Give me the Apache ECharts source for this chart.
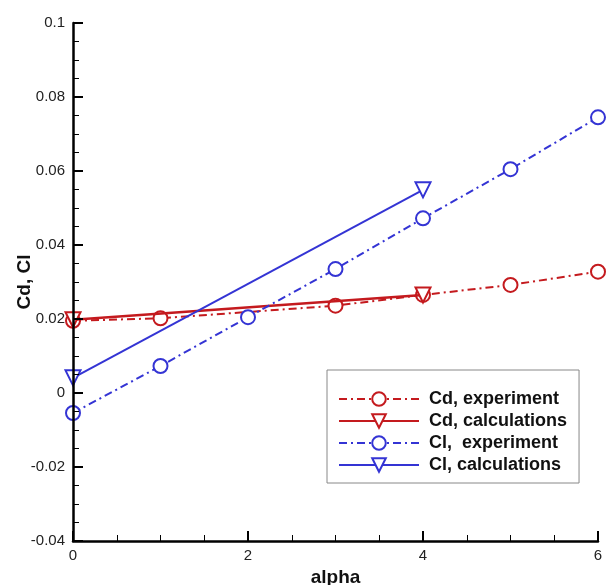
<!DOCTYPE html>
<html>
<head>
<meta charset="utf-8">
<script src="https://cdn.jsdelivr.net/npm/echarts@6/dist/echarts.min.js"></script>
<style>
  html, body { margin: 0; padding: 0; background: #fff; }
  #chart { width: 606px; height: 585px; }
</style>
</head>
<body>
<div id="chart"></div>
<script>
// alpha values and measured / computed coefficients
const cdExpAlpha = [0, 1, 3, 4, 5, 6]
const cdExp = [0.0195, 0.0202, 0.0236, 0.0265, 0.0292, 0.0328]
const cdCalcAlpha = [0, 4]
const cdCalc = [0.0198, 0.0265]
const clExpAlpha = [0, 1, 2, 3, 4, 5, 6]
const clExp = [-0.0054, 0.0073, 0.0205, 0.0335, 0.0472, 0.0605, 0.0745]
const clCalcAlpha = [0, 4]
const clCalc = [0.0041, 0.0549]

const seriesNames = ['Cd, experiment', 'Cd, calculations', 'Cl,  experiment', 'Cl, calculations']

const RED = '#c41a1e'
const BLUE = '#3434d4'
const dashDot = [8, 4, 2, 4]

const pairs = (xs, ys) => xs.map((x, i) => [x, ys[i]])

const chart = echarts.init(document.getElementById('chart'))

const axisCommon = {
  z: 10,
  axisLine: { show: true, onZero: false, lineStyle: { color: '#000', width: 2.5 } },
  axisTick: { show: true, inside: true, length: 10, lineStyle: { color: '#000', width: 2 } },
  minorTick: { show: true, splitNumber: 4, length: 6, lineStyle: { color: '#000', width: 1 } },
  splitLine: { show: false },
  axisLabel: { color: '#222', fontSize: 15, fontFamily: 'Liberation Sans, Arial' },
  nameTextStyle: { color: '#111', fontSize: 19, fontWeight: 'bold', fontFamily: 'Liberation Sans, Arial' }
}

const option = {
  animation: false,
  grid: { left: 73, right: 8, top: 23, bottom: 44, containLabel: false, outerBoundsMode: 'none' },
  legend: {
    orient: 'vertical',
    left: 327,
    top: 370,
    padding: [20, 12, 9, 11],
    itemWidth: 80,
    itemHeight: 17,
    itemGap: 4,
    borderColor: '#888',
    borderWidth: 1,
    textStyle: {
      color: '#111', fontSize: 18, fontWeight: 'bold', fontFamily: 'Liberation Sans, Arial',
      padding: [0, 0, 0, 5]
    },
    data: seriesNames
  },
  xAxis: {
    type: 'value',
    min: 0,
    max: 6,
    interval: 2,
    name: 'alpha',
    nameLocation: 'middle',
    nameGap: 25,
    ...axisCommon,
    axisLabel: { ...axisCommon.axisLabel, margin: 7 }
  },
  yAxis: {
    type: 'value',
    min: -0.04,
    max: 0.1,
    interval: 0.02,
    name: 'Cd, Cl',
    nameLocation: 'middle',
    nameGap: 39,
    nameMoveOverlap: false,
    ...axisCommon,
    axisLabel: { ...axisCommon.axisLabel, margin: 8 }
  },
  series: [
    {
      name: seriesNames[0],
      type: 'line',
      data: pairs(cdExpAlpha, cdExp),
      symbol: 'circle',
      symbolSize: 14,
      color: RED,
      lineStyle: { color: RED, width: 2, type: dashDot },
      itemStyle: { color: '#fff', borderColor: RED, borderWidth: 2 },
      z: 2
    },
    {
      name: seriesNames[1],
      type: 'line',
      data: pairs(cdCalcAlpha, cdCalc),
      symbol: 'triangle',
      symbolRotate: 180,
      symbolSize: 15,
      color: RED,
      lineStyle: { color: RED, width: 2.5 },
      itemStyle: { color: '#fff', borderColor: RED, borderWidth: 2 },
      z: 3
    },
    {
      name: seriesNames[2],
      type: 'line',
      data: pairs(clExpAlpha, clExp),
      symbol: 'circle',
      symbolSize: 14,
      color: BLUE,
      lineStyle: { color: BLUE, width: 2, type: dashDot },
      itemStyle: { color: '#fff', borderColor: BLUE, borderWidth: 2 },
      z: 4
    },
    {
      name: seriesNames[3],
      type: 'line',
      data: pairs(clCalcAlpha, clCalc),
      symbol: 'triangle',
      symbolRotate: 180,
      symbolSize: 15,
      color: BLUE,
      lineStyle: { color: BLUE, width: 2 },
      itemStyle: { color: '#fff', borderColor: BLUE, borderWidth: 2 },
      z: 5
    }
  ]
}

chart.setOption(option)
</script>
</body>
</html>
